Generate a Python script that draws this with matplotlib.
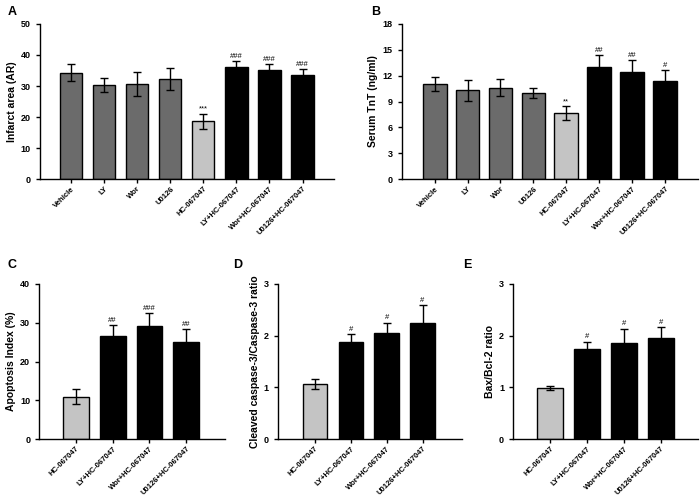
import matplotlib
matplotlib.use("Agg")
import matplotlib.pyplot as plt

plt.rcParams['font.family'] = ['Liberation Sans', 'DejaVu Sans']
plt.rcParams['font.weight'] = 'bold'

# ----------------- Data -----------------
groups_top = ["Vehicle", "LY", "Wor", "U0126", "HC-067047",
              "LY+HC-067047", "Wor+HC-067047", "U0126+HC-067047"]
groups_bot = ["HC-067047", "LY+HC-067047", "Wor+HC-067047", "U0126+HC-067047"]

infarct = [34.3, 30.4, 30.6, 32.2, 18.7, 36.1, 35.1, 33.4]
infarct_err = [2.8, 2.2, 3.8, 3.5, 2.4, 2.0, 2.1, 2.2]
infarct_sig = ["", "", "", "", "***", "###", "###", "###"]

tnt = [11.0, 10.3, 10.6, 10.0, 7.7, 13.0, 12.4, 11.4]
tnt_err = [0.8, 1.2, 1.0, 0.6, 0.8, 1.4, 1.4, 1.3]
tnt_sig = ["", "", "", "", "**", "##", "##", "#"]

apoptosis = [10.9, 26.6, 29.2, 25.1]
apoptosis_err = [1.9, 2.8, 3.2, 3.2]
apoptosis_sig = ["", "##", "###", "##"]

caspase = [1.07, 1.88, 2.06, 2.24]
caspase_err = [0.10, 0.15, 0.19, 0.35]
caspase_sig = ["", "#", "#", "#"]

baxbcl = [0.99, 1.74, 1.85, 1.96]
baxbcl_err = [0.04, 0.14, 0.28, 0.20]
baxbcl_sig = ["", "#", "#", "#"]

DARK = "#6b6b6b"
LIGHT = "#c4c4c4"
colors_top = [DARK] * 4 + [LIGHT] + ["black"] * 3
colors_bot = [LIGHT] + ["black"] * 3


def bar_panel(ax, labels, vals, errs, sigs, colors, ylabel, yticks,
              xlim, width, sig_off):
    x = range(len(vals))
    ax.bar(x, vals, width=width, color=colors, edgecolor="black", linewidth=1.0,
           zorder=2)
    ax.errorbar(x, vals, yerr=errs, fmt="none", ecolor="black", elinewidth=1.0,
                capsize=3, capthick=1.0, zorder=3)
    for xi, v, e, s in zip(x, vals, errs, sigs):
        if s:
            ax.text(xi, v + e + sig_off, s, ha="center", va="bottom",
                    fontsize=5.5, fontweight="normal")
    ax.set_xlim(*xlim)
    ax.set_ylim(yticks[0], yticks[-1])
    ax.set_yticks(yticks)
    ax.set_xticks(list(x))
    ax.set_xticklabels(labels, rotation=45, ha="right", rotation_mode="anchor",
                       fontsize=5.5)
    ax.tick_params(axis="y", labelsize=6.5, length=3, width=1, direction="out")
    ax.tick_params(axis="x", length=3, width=1, direction="out", pad=1.5)
    ax.set_ylabel(ylabel, fontsize=7.5, fontweight="bold", labelpad=3)
    for sp in ["top", "right"]:
        ax.spines[sp].set_visible(False)
    for sp in ["left", "bottom"]:
        ax.spines[sp].set_linewidth(1.0)


fig = plt.figure(figsize=(7, 4.99), dpi=100)

axA = fig.add_axes([0.057, 0.641, 0.420, 0.311])
bar_panel(axA, groups_top, infarct, infarct_err, infarct_sig, colors_top,
          "Infarct area (AR)", [0, 10, 20, 30, 40, 50], (-0.95, 7.95), 0.67, 0.3)

axB = fig.add_axes([0.574, 0.641, 0.423, 0.311])
bar_panel(axB, groups_top, tnt, tnt_err, tnt_sig, colors_top,
          "Serum TnT (ng/ml)", [0, 3, 6, 9, 12, 15, 18], (-1.0, 8.0), 0.72, 0.1)

axC = fig.add_axes([0.056, 0.120, 0.265, 0.311])
bar_panel(axC, groups_bot, apoptosis, apoptosis_err, apoptosis_sig, colors_bot,
          "Apoptosis Index (%)", [0, 10, 20, 30, 40], (-1.0, 4.05), 0.7, 0.3)

axD = fig.add_axes([0.397, 0.120, 0.263, 0.311])
bar_panel(axD, groups_bot, caspase, caspase_err, caspase_sig, colors_bot,
          "Cleaved caspase-3/Caspase-3 ratio", [0, 1, 2, 3], (-1.03, 4.1), 0.68, 0.03)

axE = fig.add_axes([0.733, 0.120, 0.264, 0.311])
bar_panel(axE, groups_bot, baxbcl, baxbcl_err, baxbcl_sig, colors_bot,
          "Bax/Bcl-2 ratio", [0, 1, 2, 3], (-1.0, 4.0), 0.68, 0.03)

for lbl, (px, py) in {"A": (8, 12), "B": (371, 12), "C": (8, 265),
                      "D": (233, 265), "E": (463, 265)}.items():
    fig.text(px / 700, 1 - py / 499, lbl, fontsize=9, fontweight="bold",
             ha="left", va="center")

fig.savefig("out.png", dpi=100)
